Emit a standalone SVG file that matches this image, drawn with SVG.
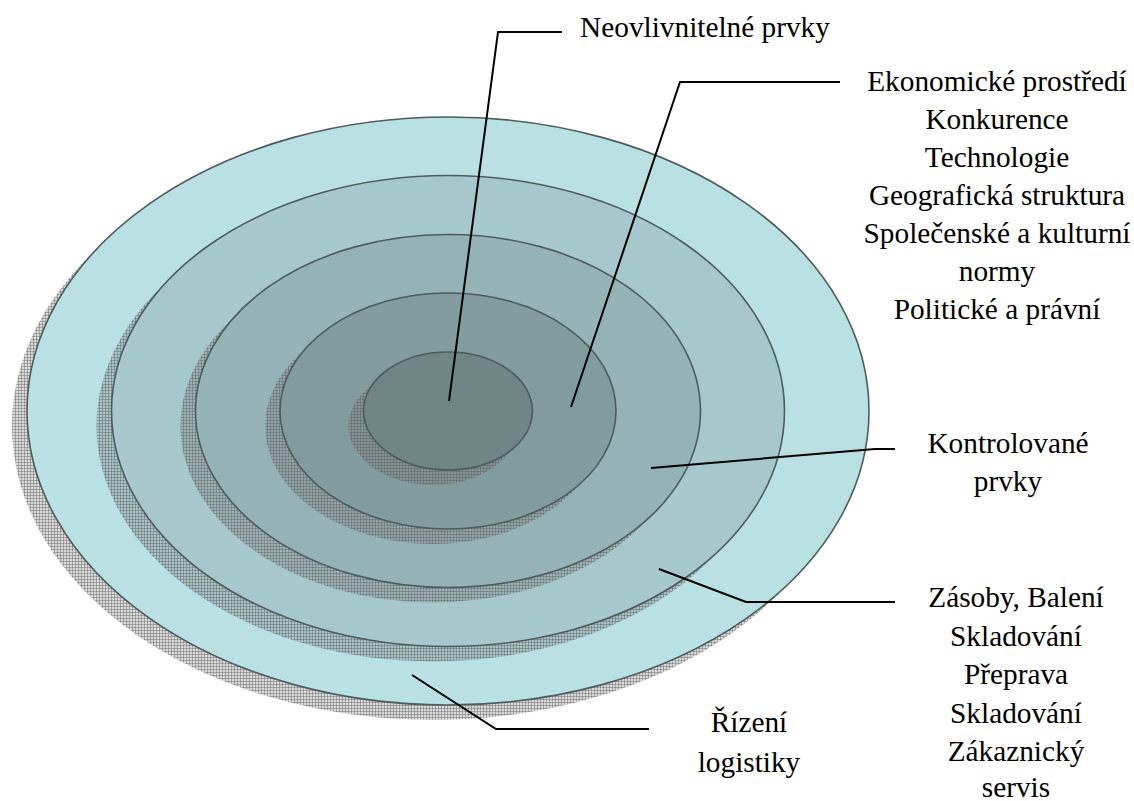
<svg xmlns="http://www.w3.org/2000/svg" width="1134" height="801" viewBox="0 0 1134 801">
  <defs>
    <!-- cross-hatched drop shadow under each ring -->
    <pattern id="hatch" width="3" height="3" patternUnits="userSpaceOnUse">
      <rect width="3" height="3" fill="#808080" fill-opacity="0.3"/>
      <path d="M0 0.5H3M0.5 0V3" stroke="#5a5a5a" stroke-opacity="0.4" stroke-width="1" fill="none"/>
    </pattern>
    <style>
      .shadow { fill: url(#hatch); stroke: none; }
      .ring { stroke: #4e5c5d; stroke-width: 1.6; }
      .r1 { fill: #b9e0e3; }
      .r2 { fill: #a6c8ca; }
      .r3 { fill: #95b3b5; }
      .r4 { fill: #829c9e; }
      .r5 { fill: #6f8586; }
      .lbl { font-size: 29.3px; fill: #000; text-anchor: middle; }
      .lead { fill: none; stroke: #000; stroke-width: 2; stroke-linejoin: miter; }
    </style>
  </defs>
  <rect width="1134" height="801" fill="#ffffff"/>

  <!-- concentric rings, each with its shadow offset down-left -->
  <g id="ring-1">
    <ellipse class="shadow" cx="433" cy="426" rx="421" ry="294"/>
    <ellipse class="ring r1" cx="448" cy="411" rx="421" ry="294"/>
  </g>
  <g id="ring-2">
    <ellipse class="shadow" cx="433" cy="426" rx="336.5" ry="235.5"/>
    <ellipse class="ring r2" cx="448" cy="411" rx="336.5" ry="235.5"/>
  </g>
  <g id="ring-3">
    <ellipse class="shadow" cx="433" cy="426" rx="252.5" ry="176.5"/>
    <ellipse class="ring r3" cx="448" cy="411" rx="252.5" ry="176.5"/>
  </g>
  <g id="ring-4">
    <ellipse class="shadow" cx="433" cy="426" rx="168" ry="118"/>
    <ellipse class="ring r4" cx="448" cy="411" rx="168" ry="118"/>
  </g>
  <g id="ring-5">
    <ellipse class="shadow" cx="433" cy="426" rx="84.5" ry="59"/>
    <ellipse class="ring r5" cx="448" cy="411" rx="84.5" ry="59"/>
  </g>

  <!-- leader lines from rings to labels -->
  <g id="connectors">
    <polyline class="lead" points="449,401 498,32 562,32"/>
    <polyline class="lead" points="571,407 680,82 840,82"/>
    <polyline class="lead" points="651,468 875,449 895,449"/>
    <polyline class="lead" points="659,569 746,602 895,602"/>
    <polyline class="lead" points="412,675 496,729 649,729"/>
  </g>

  <g font-family="'Liberation Serif', 'DejaVu Serif', serif">
    <g id="label-neovlivnitelne">
      <text class="lbl" x="705" y="37">Neovlivnitelné prvky</text>
    </g>
    <g id="label-prostredi">
      <text class="lbl" x="997" y="91">Ekonomické prostředí</text>
      <text class="lbl" x="997" y="129">Konkurence</text>
      <text class="lbl" x="997" y="167">Technologie</text>
      <text class="lbl" x="997" y="205">Geografická struktura</text>
      <text class="lbl" x="997" y="243">Společenské a kulturní</text>
      <text class="lbl" x="997" y="281">normy</text>
      <text class="lbl" x="997" y="319">Politické a právní</text>
    </g>
    <g id="label-kontrolovane">
      <text class="lbl" x="1008" y="453">Kontrolované</text>
      <text class="lbl" x="1008" y="491">prvky</text>
    </g>
    <g id="label-zasoby">
      <text class="lbl" x="1016" y="607">Zásoby, Balení</text>
      <text class="lbl" x="1016" y="645.5">Skladování</text>
      <text class="lbl" x="1016" y="684">Přeprava</text>
      <text class="lbl" x="1016" y="722.5">Skladování</text>
      <text class="lbl" x="1016" y="761">Zákaznický</text>
      <text class="lbl" x="1016" y="797">servis</text>
    </g>
    <g id="label-rizeni">
      <text class="lbl" x="749" y="732">Řízení</text>
      <text class="lbl" x="749" y="772">logistiky</text>
    </g>
  </g>
</svg>
